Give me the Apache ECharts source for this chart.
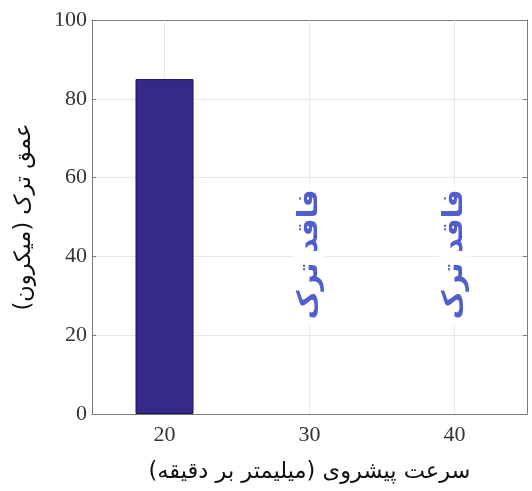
<!DOCTYPE html>
<html>
<head>
<meta charset="utf-8"/>
<title>عمق ترک</title>
<script src="https://cdn.jsdelivr.net/npm/echarts@6/dist/echarts.min.js"></script>
<style>
html, body { margin: 0; padding: 0; background: #fff; }
#container { width: 532px; height: 491px; }
</style>
</head>
<body>
<div id="container"></div>
<script type="text/javascript">
    // داده‌ها
    var speeds = [20, 30, 40];
    var crackDepth = [85];            // فقط سرعت 20 ترک دارد
    var noCrackSpeeds = [30, 40];
    var noCrackLabel = 'فاقد ترک';
    var noCrackLevel = 39.5;

    var myChart = echarts.init(document.getElementById('container'));

    var barData = [];
    for (var i = 0; i < crackDepth.length; i++) {
        barData.push([speeds[i], crackDepth[i]]);
    }
    var textData = [];
    for (var j = 0; j < noCrackSpeeds.length; j++) {
        textData.push([noCrackSpeeds[j], noCrackLevel]);
    }
    var gridLines = [];
    for (var k = 0; k < speeds.length; k++) {
        gridLines.push({xAxis: speeds[k]});
    }

    var serif = 'Liberation Serif';
    var fa = 'DejaVu Sans';
    var boxColor = '#7a7a7a';

    option = {
        animation: false,
        grid: {left: 92, right: 5, top: 20, bottom: 77},
        xAxis: [{
            type: 'value',
            min: 15,
            max: 45,
            position: 'bottom',
            name: 'سرعت پیشروی (میلیمتر بر دقیقه)',
            nameLocation: 'middle',
            nameGap: 47,
            nameTextStyle: {fontFamily: fa, fontSize: 22.5, color: '#111'},
            axisLine: {onZero: false, lineStyle: {color: boxColor}},
            axisTick: {show: true, inside: true, length: 4, customValues: speeds, lineStyle: {color: boxColor}},
            axisLabel: {customValues: speeds, fontFamily: serif, fontSize: 22, color: '#333', margin: 10},
            splitLine: {show: false}
        }, {
            type: 'value',
            min: 15,
            max: 45,
            position: 'top',
            axisLine: {onZero: false, lineStyle: {color: boxColor}},
            axisTick: {show: true, inside: true, length: 4, customValues: speeds, lineStyle: {color: boxColor}},
            axisLabel: {show: false},
            splitLine: {show: false}
        }],
        yAxis: [{
            type: 'value',
            min: 0,
            max: 100,
            interval: 20,
            name: 'عمق ترک (میکرون)',
            nameLocation: 'middle',
            nameGap: 56,
            nameTextStyle: {fontFamily: fa, fontSize: 22.5, color: '#111'},
            axisLine: {show: true, lineStyle: {color: boxColor}},
            axisTick: {show: true, inside: true, length: 4, lineStyle: {color: boxColor}},
            axisLabel: {fontFamily: serif, fontSize: 22, color: '#333', margin: 5},
            splitLine: {show: true, lineStyle: {color: '#e8e8e8'}}
        }, {
            type: 'value',
            min: 0,
            max: 100,
            interval: 20,
            position: 'right',
            axisLine: {show: true, lineStyle: {color: boxColor}},
            axisTick: {show: true, inside: true, length: 4, lineStyle: {color: boxColor}},
            axisLabel: {show: false},
            splitLine: {show: false}
        }],
        series: [{
            type: 'bar',
            data: barData,
            barWidth: 58,
            z: 3,
            itemStyle: {color: '#352a87', borderColor: '#1a1450', borderWidth: 1},
            markLine: {
                silent: true,
                symbol: 'none',
                z: 1,
                label: {show: false},
                lineStyle: {color: '#e8e8e8', type: 'solid', width: 1},
                data: gridLines
            }
        }, {
            type: 'scatter',
            data: textData,
            symbolSize: 0,
            z: 4,
            label: {
                show: true,
                position: 'inside',
                offset: [4, 0],
                rotate: 90,
                formatter: function () { return noCrackLabel; },
                fontFamily: fa,
                fontWeight: 'bold',
                fontSize: 28,
                color: '#2636c2',
                backgroundColor: '#fff',
                padding: [2, 6]
            }
        }]
    };

    myChart.setOption(option);
</script>
</body>
</html>
